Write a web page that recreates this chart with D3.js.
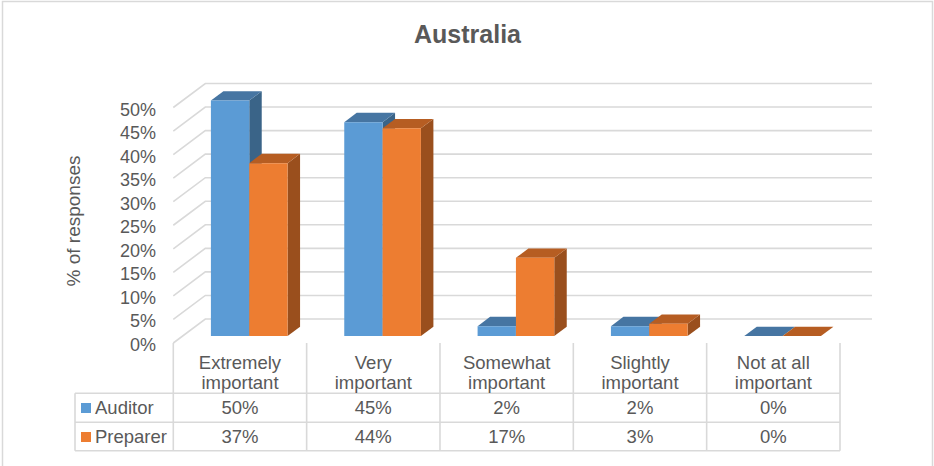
<!DOCTYPE html>
<html>
<head>
<meta charset="utf-8">
<script src="https://cdn.jsdelivr.net/npm/d3@7/dist/d3.min.js"></script>
<style>
  html, body { margin: 0; padding: 0; background: #fff; }
  svg { display: block; font-family: "Liberation Sans", Arial, sans-serif; }
</style>
</head>
<body>
<svg id="chart" width="934" height="466"></svg>
<script>
const title = "Australia";
const yTitle = "% of responses";
const categories = ["Extremely important", "Very important", "Somewhat important", "Slightly important", "Not at all important"];
const categoryLines = [["Extremely", "important"], ["Very", "important"], ["Somewhat", "important"], ["Slightly", "important"], ["Not at all", "important"]];
const seriesNames = ["Auditor", "Preparer"];
const auditor = [50.0, 45.4, 2.1, 2.1, 0];
const preparer = [36.7, 44.1, 16.6, 2.6, 0];
const yTicks = [0, 5, 10, 15, 20, 25, 30, 35, 40, 45, 50];

const series = [auditor, preparer];
const colors = {
  front: ["#5B9BD5", "#ED7D31"],
  top: ["#4675A2", "#B65D22"],
  side: ["#3A6488", "#9A4F1D"]
};
const textColor = "#595959";
const gridColor = "#D9D9D9";

const svg = d3.select("#chart");

// outer border
svg.append("rect").attr("x", 2.5).attr("y", 1.5).attr("width", 930).attr("height", 475)
  .attr("fill", "none").attr("stroke", gridColor).attr("stroke-width", 1.5);

// 3D geometry
const left = 173.3, right = 840;
const depthX = 32, depthY = -24;
const f0 = 0.29, f1 = 0.68;

const x0 = d3.scaleBand().domain(categories).range([left, right]).paddingInner(0).paddingOuter(0);
const bw = x0.bandwidth() * 0.2875;
const x1 = d3.scaleBand().domain(seriesNames).range([0, bw * 2]);
const y = d3.scaleLinear().domain([0, 50]).range([343, 107.5]);

function P(x, v, f) { return [x + f * depthX, y(v) + f * depthY]; }

// gridlines: back wall and side wall
const grid = svg.append("g").attr("stroke", gridColor).attr("stroke-width", 1.6).attr("fill", "none");
yTicks.forEach(t => {
  const a = P(left, t, 0), b = P(left, t, 1), c = P(right, t, 1);
  grid.append("path").attr("d", `M${a[0]},${a[1]}L${b[0]},${b[1]}L${c[0]},${c[1]}`);
});

// title
svg.append("text").attr("x", 467.5).attr("y", 43).attr("text-anchor", "middle")
  .attr("font-size", 25).attr("font-weight", "bold").attr("fill", textColor).text(title);

// y axis labels
svg.append("g").selectAll("text").data(yTicks).join("text")
  .attr("x", 156).attr("y", d => y(d) + 8)
  .attr("text-anchor", "end").attr("font-size", 18).attr("fill", textColor)
  .text(d => d + "%");

// y title
svg.append("text").attr("transform", "translate(80,221) rotate(-90)")
  .attr("text-anchor", "middle").attr("font-size", 19).attr("fill", textColor).text(yTitle);

// bars
const bars = svg.append("g");
categories.forEach((cat, i) => {
  const gx = x0(cat) + (x0.bandwidth() - bw * 2) / 2;
  series.forEach((vals, s) => {
    const v = vals[i];
    const xl = gx + x1(seriesNames[s]);
    const xr = xl + bw;
    const fbl = P(xl, 0, f0), fbr = P(xr, 0, f0), ftl = P(xl, v, f0), ftr = P(xr, v, f0);
    const btl = P(xl, v, f1), btr = P(xr, v, f1), bbr = P(xr, 0, f1);
    const poly = pts => "M" + pts.map(p => p.join(",")).join("L") + "Z";
    if (v > 0) {
      bars.append("path").attr("d", poly([fbr, ftr, btr, bbr])).attr("fill", colors.side[s]);
    }
    bars.append("path").attr("d", poly([ftl, ftr, btr, btl])).attr("fill", colors.top[s]);
    if (v > 0) {
      bars.append("path").attr("d", poly([fbl, fbr, ftr, ftl])).attr("fill", colors.front[s]);
    }
  });
});

// data table
const tbl = svg.append("g").attr("stroke", gridColor).attr("stroke-width", 1.6).attr("fill", "none");
const rowTops = [393.3, 422.3, 450.7];
const legendLeft = 75;
rowTops.forEach(ry => tbl.append("line").attr("x1", legendLeft).attr("x2", right).attr("y1", ry).attr("y2", ry));
tbl.append("line").attr("x1", legendLeft).attr("x2", legendLeft).attr("y1", rowTops[0]).attr("y2", rowTops[2]);
const colEdges = categories.map(c => x0(c)).concat([right]);
colEdges.forEach(cx => tbl.append("line").attr("x1", cx).attr("x2", cx).attr("y1", 343).attr("y2", rowTops[2]));

// category labels
const catG = svg.append("g").attr("font-size", 18.5).attr("fill", textColor).attr("text-anchor", "middle");
categories.forEach((cat, i) => {
  const cx = x0(cat) + x0.bandwidth() / 2;
  categoryLines[i].forEach((ln, k) => {
    catG.append("text").attr("x", cx).attr("y", 369 + k * 20).text(ln);
  });
});

// series rows
const fmt = v => d3.format(".0f")(v) + "%";
const rowBase = [414, 443];
series.forEach((vals, s) => {
  svg.append("rect").attr("x", 81).attr("y", rowBase[s] - 11).attr("width", 10).attr("height", 10)
    .attr("fill", colors.front[s]);
  svg.append("text").attr("x", 95).attr("y", rowBase[s]).attr("font-size", 18.5).attr("fill", textColor)
    .text(seriesNames[s]);
  svg.append("g").selectAll("text").data(vals).join("text")
    .attr("x", (d, i) => x0(categories[i]) + x0.bandwidth() / 2)
    .attr("y", rowBase[s]).attr("text-anchor", "middle").attr("font-size", 18.5).attr("fill", textColor)
    .text(d => fmt(d));
});
</script>
</body>
</html>
